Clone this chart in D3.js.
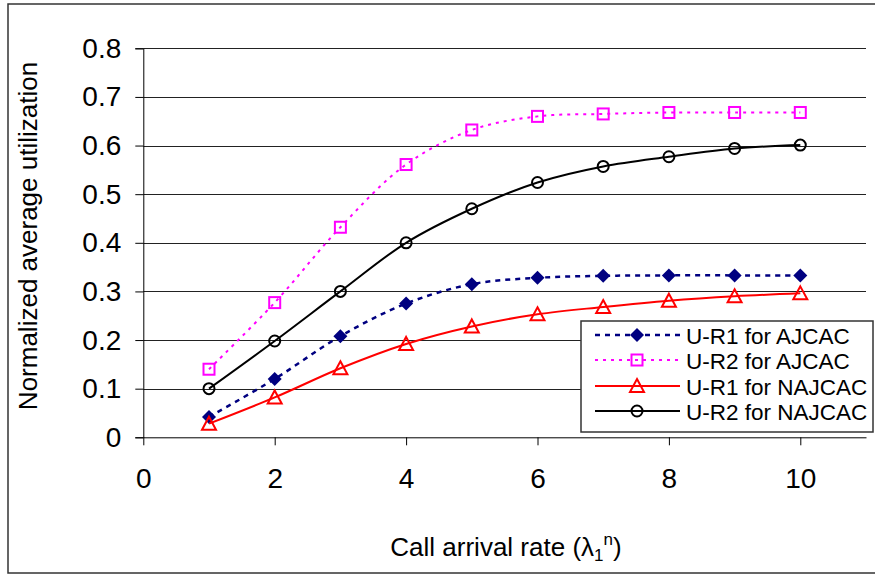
<!DOCTYPE html>
<html><head><meta charset="utf-8">
<script src="https://cdn.jsdelivr.net/npm/d3@7"></script>
<style>body{margin:0;background:#fff}svg{display:block}text{font-family:"Liberation Sans",Arial,sans-serif;fill:#000}</style>
</head><body><svg id="c" width="875" height="575"></svg>
<script>
const xValues = [1,2,3,4,5,6,7,8,9,10];
const seriesNames = ["U-R1 for AJCAC","U-R2 for AJCAC","U-R1 for NAJCAC","U-R2 for NAJCAC"];
const ur1AJCAC = [0.042,0.120,0.208,0.275,0.315,0.328,0.332,0.333,0.333,0.333];
const ur2AJCAC = [0.140,0.277,0.432,0.561,0.632,0.660,0.665,0.668,0.668,0.668];
const ur1NAJCAC = [0.028,0.082,0.142,0.192,0.228,0.253,0.268,0.281,0.290,0.296];
const ur2NAJCAC = [0.100,0.198,0.300,0.400,0.470,0.524,0.557,0.577,0.594,0.601];
const xTicks = [0,2,4,6,8,10];
const yTicks = [0,0.1,0.2,0.3,0.4,0.5,0.6,0.7,0.8];

const svg = d3.select("#c");
const x = d3.scaleLinear().domain([0,11]).range([143.3,866]);
const y = d3.scaleLinear().domain([0,0.8]).range([437.3,48.3]);

// frame
svg.append("rect").attr("x",8).attr("y",4).attr("width",880).attr("height",569)
  .attr("fill","none").attr("stroke","#333").attr("stroke-width",1.5);

// gridlines
svg.append("g").selectAll("line").data(yTicks.slice(1)).join("line")
  .attr("x1",x(0)).attr("x2",x(11)).attr("y1",d=>Math.round(y(d))+0.5).attr("y2",d=>Math.round(y(d))+0.5)
  .attr("stroke","#222").attr("stroke-width",1);

// y axis
const yAxis = svg.append("g").attr("transform",`translate(${x(0)},0)`)
  .call(d3.axisLeft(y).tickValues(yTicks).tickSize(8).tickPadding(14).tickFormat(d=>d===0?"0":d3.format(".1f")(d)));
yAxis.select(".domain").attr("stroke","#000");
yAxis.selectAll(".tick line").attr("stroke","#000");
yAxis.selectAll("text").attr("font-size",28).attr("font-family","Liberation Sans, Arial");

// x axis
const xAxis = svg.append("g").attr("transform",`translate(0,${y(0)})`)
  .call(d3.axisBottom(x).tickValues(xTicks).tickSize(8).tickSizeOuter(0).tickPadding(22.5).tickFormat(d3.format("d")));
xAxis.select(".domain").attr("stroke","#000");
xAxis.selectAll(".tick line").attr("stroke","#000");
xAxis.selectAll("text").attr("font-size",28).attr("font-family","Liberation Sans, Arial");

// titles
svg.append("text").attr("x",506).attr("y",556).attr("text-anchor","middle")
  .attr("font-size",26)
  .html('Call arrival rate (λ<tspan font-size="17" dy="5">1</tspan><tspan font-size="17" dy="-16">n</tspan><tspan dy="11">)</tspan>');
svg.append("text").attr("transform","translate(37,236) rotate(-90)").attr("text-anchor","middle")
  .attr("font-size",26).text("Normalized average utilization");

const line = d3.line().x((d,i)=>x(xValues[i])).y(d=>y(d)).curve(d3.curveCatmullRom.alpha(0.5));

const styles = [
  {data:ur1AJCAC, color:"#000080", dash:"5,5", w:2.5, marker:"diamond"},
  {data:ur2AJCAC, color:"#FF00FF", dash:"3,5", w:2, marker:"square"},
  {data:ur1NAJCAC, color:"#FF0000", dash:null, w:2, marker:"triangle"},
  {data:ur2NAJCAC, color:"#000000", dash:null, w:2, marker:"circle"}
];

function drawMarker(g, type, color, cx, cy){
  if(type==="diamond"){
    g.append("path").attr("d",`M${cx},${cy-7}L${cx+7},${cy}L${cx},${cy+7}L${cx-7},${cy}Z`).attr("fill",color);
  } else if(type==="square"){
    g.append("rect").attr("x",cx-5.5).attr("y",cy-5.5).attr("width",11).attr("height",11)
      .attr("fill","none").attr("stroke",color).attr("stroke-width",2);
  } else if(type==="triangle"){
    g.append("path").attr("d",`M${cx},${cy-7}L${cx+7},${cy+6}L${cx-7},${cy+6}Z`)
      .attr("fill","none").attr("stroke",color).attr("stroke-width",2);
  } else {
    g.append("circle").attr("cx",cx).attr("cy",cy).attr("r",5.5)
      .attr("fill","none").attr("stroke",color).attr("stroke-width",2);
  }
}

styles.forEach(s=>{
  svg.append("path").attr("d",line(s.data)).attr("fill","none").attr("stroke",s.color)
    .attr("stroke-width",s.w).attr("stroke-dasharray",s.dash);
  const g = svg.append("g");
  s.data.forEach((v,i)=>drawMarker(g,s.marker,s.color,x(xValues[i]),y(v)));
});

// legend
const lg = svg.append("g");
lg.append("rect").attr("x",581).attr("y",321).attr("width",292).attr("height",111)
  .attr("fill","#fff").attr("stroke","#333").attr("stroke-width",1.5);
const rowY = [335,360,386,411];
styles.forEach((s,i)=>{
  lg.append("line").attr("x1",595).attr("x2",680).attr("y1",rowY[i]).attr("y2",rowY[i])
    .attr("stroke",s.color).attr("stroke-width",s.w).attr("stroke-dasharray",s.dash);
  drawMarker(lg,s.marker,s.color,637,rowY[i]);
  lg.append("text").attr("x",686).attr("y",rowY[i]+8.5).attr("font-size",22.5).text(seriesNames[i]);
});
</script></body></html>
